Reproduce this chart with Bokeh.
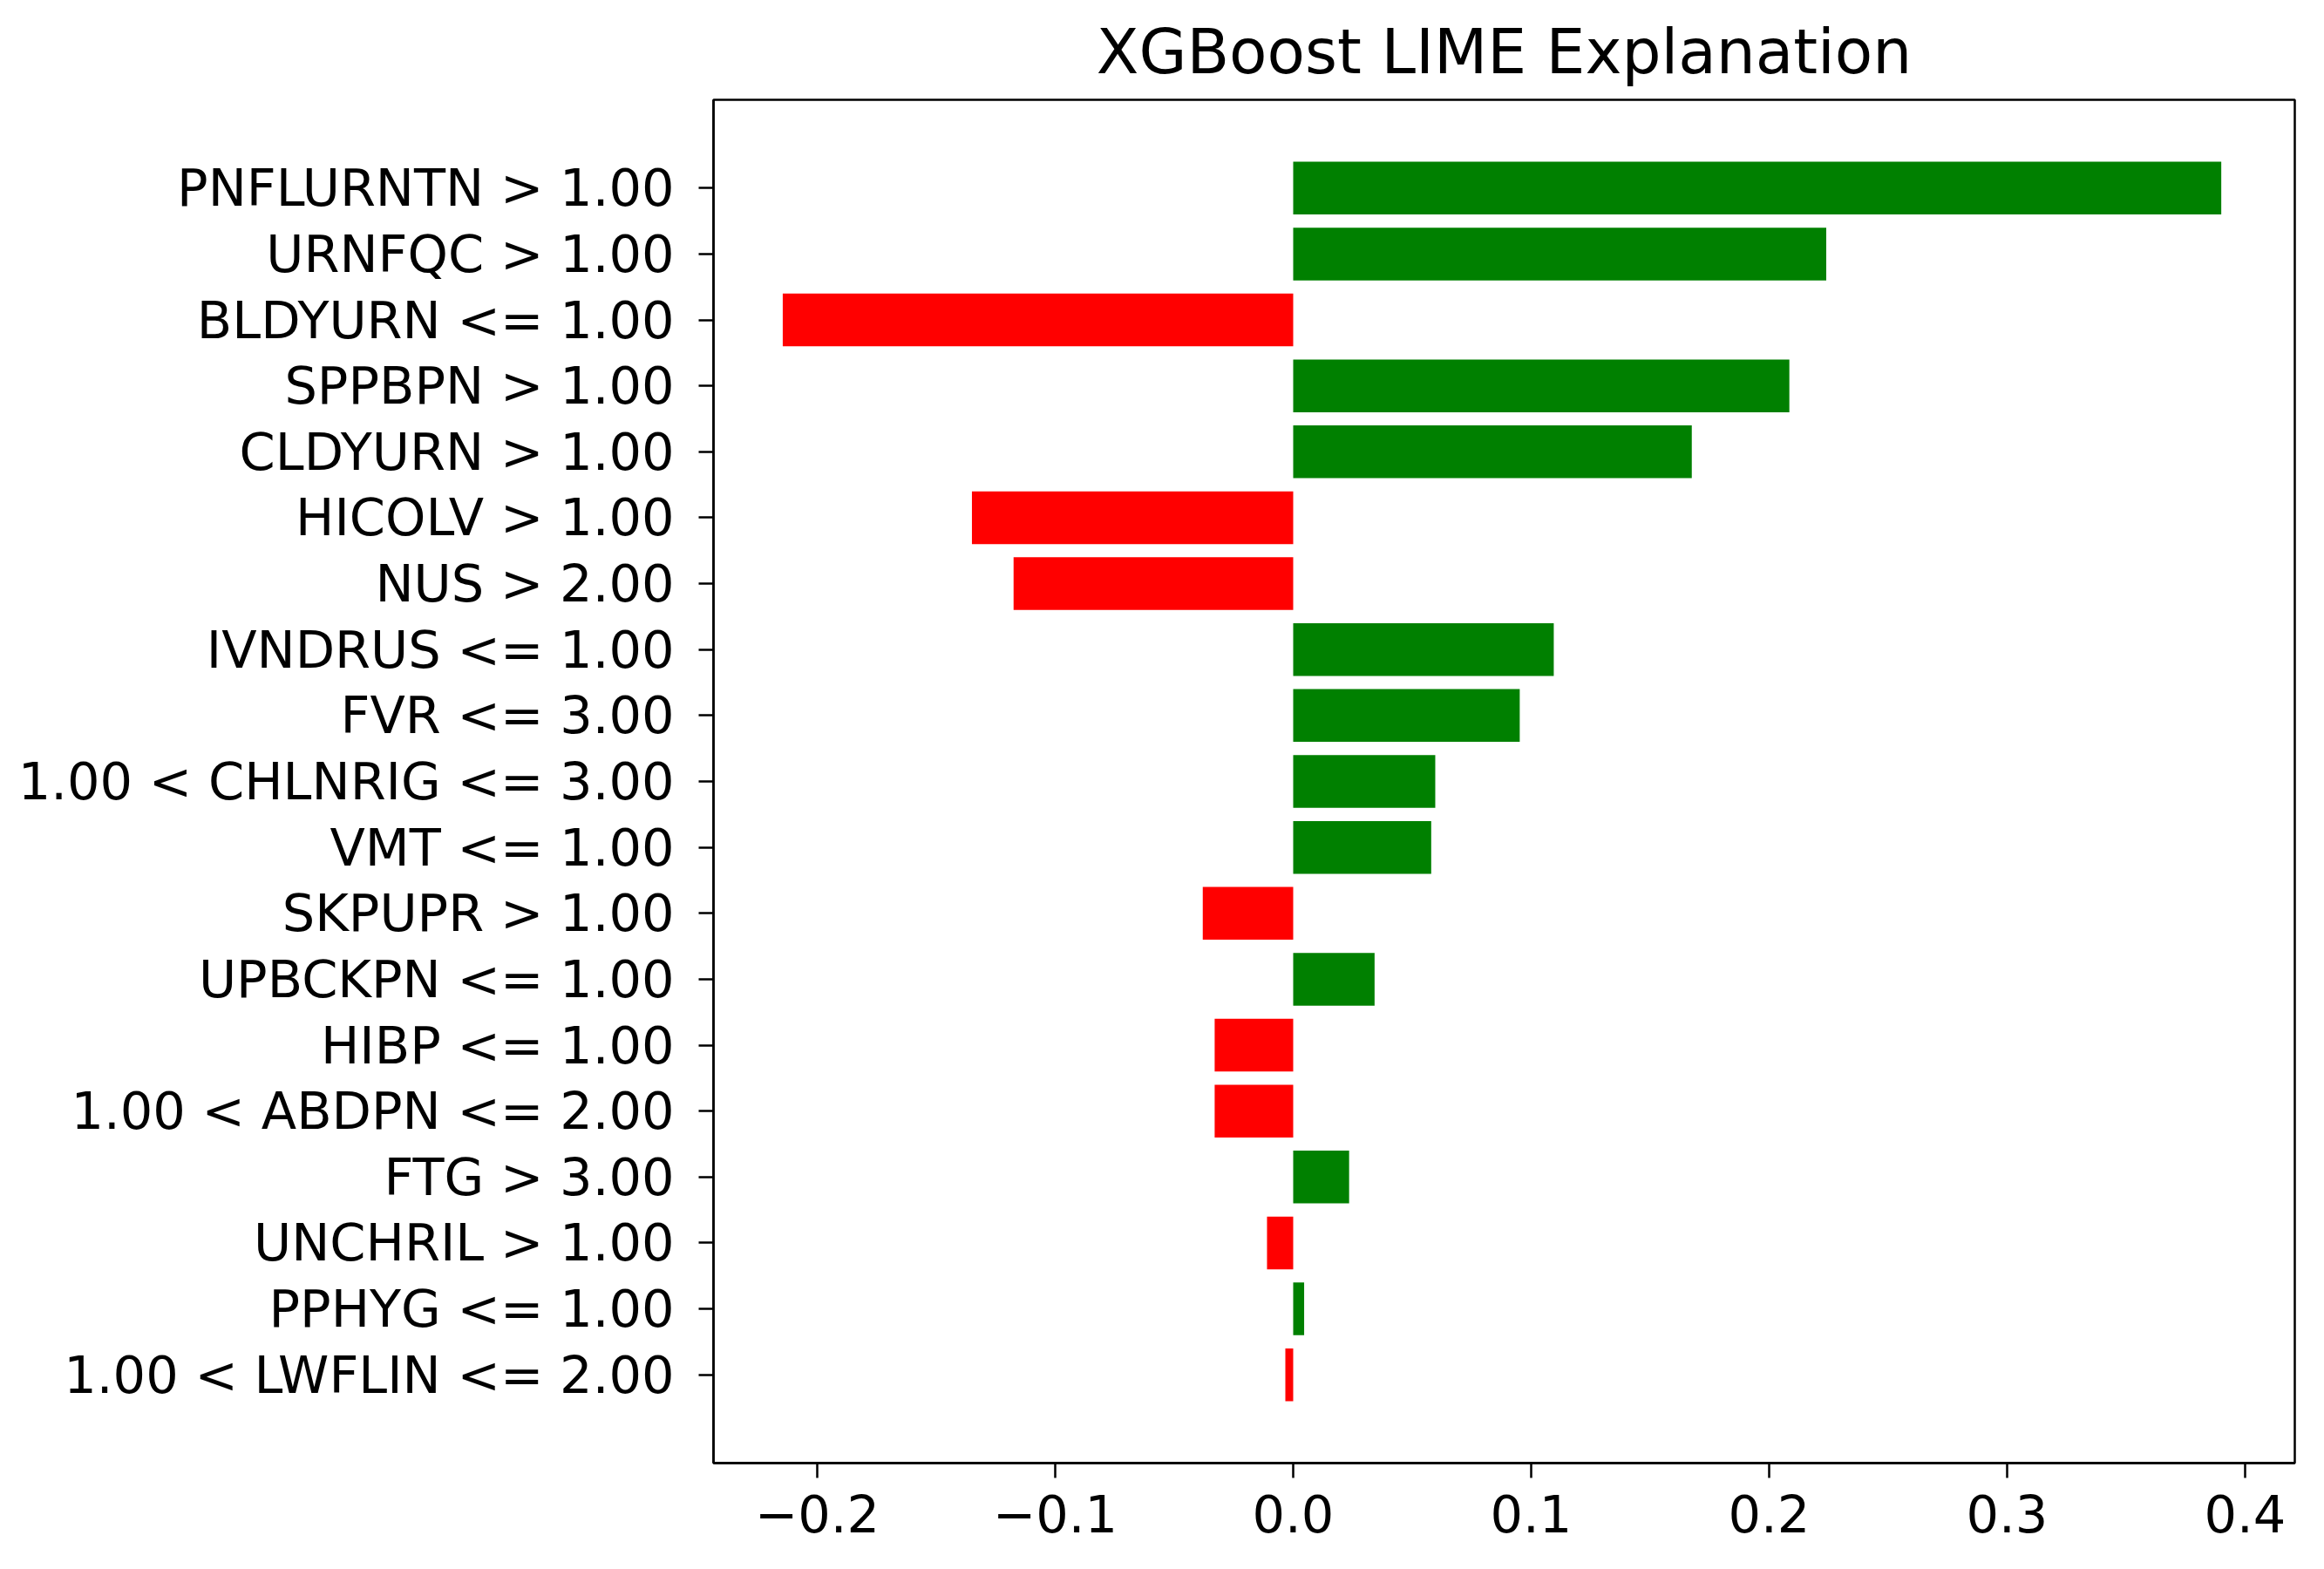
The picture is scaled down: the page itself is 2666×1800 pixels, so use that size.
from bokeh.plotting import figure
from bokeh.models import FixedTicker, Range1d, ColumnDataSource
from bokeh.embed import file_html
from bokeh.resources import INLINE

# Data (top to bottom as shown)
features = [
    "PNFLURNTN > 1.00",
    "URNFQC > 1.00",
    "BLDYURN <= 1.00",
    "SPPBPN > 1.00",
    "CLDYURN > 1.00",
    "HICOLV > 1.00",
    "NUS > 2.00",
    "IVNDRUS <= 1.00",
    "FVR <= 3.00",
    "1.00 < CHLNRIG <= 3.00",
    "VMT <= 1.00",
    "SKPUPR > 1.00",
    "UPBCKPN <= 1.00",
    "HIBP <= 1.00",
    "1.00 < ABDPN <= 2.00",
    "FTG > 3.00",
    "UNCHRIL > 1.00",
    "PPHYG <= 1.00",
    "1.00 < LWFLIN <= 2.00",
]
weights = [0.390, 0.224, -0.2145, 0.2085, 0.1675, -0.135, -0.1175, 0.1095,
           0.0952, 0.0597, 0.0580, -0.038, 0.0342, -0.033, -0.033, 0.0235,
           -0.011, 0.0046, -0.0033]
x_ticks = [-0.2, -0.1, 0.0, 0.1, 0.2, 0.3, 0.4]
x_tick_labels = ["\u22120.2", "\u22120.1", "0.0", "0.1", "0.2", "0.3", "0.4"]

n = len(features)
ypos = [n - 1 - i for i in range(n)]
colors = ["green" if w > 0 else "#ff0000" for w in weights]

src = ColumnDataSource(dict(y=ypos, w=weights, c=colors))

FONT = "DejaVu Sans"

p = figure(width=2666, height=1800, output_backend="svg", toolbar_location=None,
           x_range=Range1d(-0.2436, 0.4209), y_range=Range1d(-1.34, n - 1 + 1.34),
           min_border_left=818, min_border_right=34, min_border_top=114,
           min_border_bottom=122)

p.hbar(y="y", left=0, right="w", height=0.8, color="c", line_color=None, source=src)

p.title.text = "XGBoost LIME Explanation"
p.title.align = "center"
p.title.text_font = FONT
p.title.text_font_size = "71px"
p.title.text_font_style = "normal"
p.title.text_color = "black"
p.title.standoff = 28

p.xgrid.visible = False
p.ygrid.visible = False
p.outline_line_color = "black"
p.outline_line_width = 2.5
p.outline_line_alpha = 1.0

p.xaxis.ticker = FixedTicker(ticks=x_ticks)
p.xaxis.major_label_overrides = {t: l for t, l in zip(x_ticks, x_tick_labels)}
p.yaxis.ticker = FixedTicker(ticks=ypos)
p.yaxis.major_label_overrides = {y: f for y, f in zip(ypos, features)}

for ax in (p.xaxis, p.yaxis):
    ax.major_label_text_font = FONT
    ax.major_label_text_font_size = "59px"
    ax.major_label_text_color = "black"
    ax.axis_line_color = "black"
    ax.axis_line_width = 2.5
    ax.major_tick_line_color = "black"
    ax.major_tick_line_width = 2.5
    ax.major_tick_out = 17
    ax.major_tick_in = 0
    ax.minor_tick_line_color = None
p.xaxis.major_label_standoff = 19
p.yaxis.major_label_standoff = 28

open("out.html", "w").write(file_html(p, INLINE))
